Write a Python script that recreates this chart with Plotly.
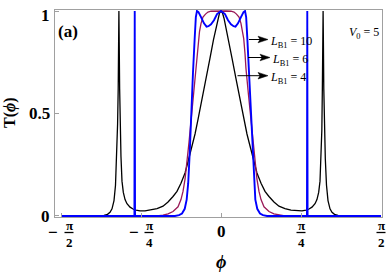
import math
import plotly.graph_objects as go

PI = math.pi

# ---------------- data ----------------
# L_B1 = 4 (black)
phi_L4 = [-1.5708, -1.2566, -1.1977, -1.1486, -1.1143, -1.0897, -1.0701, -1.0505, -1.0357, -1.0240,
          -1.0151, -1.0092, -1.0053, -1.0024, -0.9994, -0.995, -0.990, -0.982, -0.972, -0.959,
          -0.942, -0.923, -0.893, -0.864, -0.834, -0.795, -0.746, -0.687, -0.628, -0.569,
          -0.520, -0.471, -0.432, -0.393, -0.353, -0.329, -0.304, -0.278, -0.255, -0.226,
          -0.187, -0.147, -0.108, -0.0736, -0.0491, -0.0295, -0.0147,
          0.0,
          0.0147, 0.0295, 0.0491, 0.0736, 0.108, 0.147, 0.187, 0.226, 0.255, 0.278,
          0.304, 0.329, 0.353, 0.393, 0.432, 0.471, 0.520, 0.569, 0.628, 0.687,
          0.746, 0.795, 0.834, 0.864, 0.893, 0.923, 0.942, 0.959, 0.972, 0.982,
          0.990, 0.995, 0.9994, 1.0024, 1.0053, 1.0092, 1.0151, 1.0240, 1.0357, 1.0505,
          1.0701, 1.0897, 1.1143, 1.1486, 1.1977, 1.2566, 1.5708]
T_L4 = [0.0, 0.0, 0.001, 0.003, 0.008, 0.018, 0.035, 0.075, 0.15, 0.28,
        0.45, 0.62, 0.85, 1.0, 0.85, 0.62, 0.42, 0.29, 0.17, 0.115,
        0.08, 0.06, 0.043, 0.034, 0.029, 0.025, 0.025, 0.029, 0.036, 0.048,
        0.068, 0.095, 0.12, 0.16, 0.21, 0.255, 0.30, 0.355, 0.40, 0.47,
        0.565, 0.67, 0.77, 0.86, 0.92, 0.965, 0.99,
        1.0,
        0.99, 0.965, 0.92, 0.86, 0.77, 0.67, 0.565, 0.47, 0.40, 0.355,
        0.30, 0.255, 0.21, 0.16, 0.12, 0.095, 0.068, 0.048, 0.036, 0.029,
        0.025, 0.025, 0.029, 0.034, 0.043, 0.06, 0.08, 0.115, 0.17, 0.29,
        0.42, 0.62, 0.85, 1.0, 0.85, 0.62, 0.45, 0.28, 0.15, 0.075,
        0.035, 0.018, 0.008, 0.003, 0.001, 0.0, 0.0]

# L_B1 = 6 (crimson)
phi_L6 = [-1.571, -0.628, -0.569, -0.520, -0.471, -0.422, -0.393, -0.373, -0.353, -0.334,
          -0.314, -0.295, -0.270, -0.245, -0.236, -0.223, -0.211, -0.196, -0.177, -0.152,
          -0.128, -0.098, -0.049,
          0.0,
          0.049, 0.098, 0.128, 0.152, 0.177, 0.196, 0.211, 0.223, 0.236, 0.245,
          0.270, 0.295, 0.314, 0.334, 0.353, 0.373, 0.393, 0.422, 0.471, 0.520,
          0.569, 0.628, 1.571]
T_L6 = [0.0, 0.0, 0.004, 0.01, 0.022, 0.045, 0.08, 0.12, 0.18, 0.26,
        0.36, 0.46, 0.59, 0.72, 0.79, 0.865, 0.90, 0.94, 0.97, 0.985,
        0.995, 0.999, 1.0,
        1.0,
        1.0, 0.999, 0.995, 0.985, 0.97, 0.94, 0.90, 0.865, 0.79, 0.72,
        0.59, 0.46, 0.36, 0.26, 0.18, 0.12, 0.08, 0.045, 0.022, 0.01,
        0.004, 0.0, 0.0]

# L_B1 = 10 (blue)
phi_L10 = [-1.571, -0.850, -0.847, -0.844, -0.452, -0.412, -0.383, -0.356, -0.337, -0.322,
           -0.307, -0.293, -0.275, -0.258, -0.247, -0.236, -0.221, -0.196, -0.167, -0.142,
           -0.123, -0.098, -0.069, -0.039,
           0.0,
           0.039, 0.069, 0.098, 0.123, 0.142, 0.167, 0.196, 0.221, 0.236, 0.247,
           0.258, 0.275, 0.293, 0.307, 0.322, 0.337, 0.356, 0.383, 0.412, 0.452,
           0.844, 0.847, 0.850, 1.571]
T_L10 = [0.0, 0.0, 1.0, 0.0, 0.0, 0.004, 0.012, 0.035, 0.08, 0.16,
         0.31, 0.50, 0.70, 0.87, 0.97, 1.0, 0.995, 0.97, 0.94, 0.924,
         0.926, 0.935, 0.955, 0.985,
         1.0,
         0.985, 0.955, 0.935, 0.926, 0.924, 0.94, 0.97, 0.995, 1.0, 0.97,
         0.87, 0.70, 0.50, 0.31, 0.16, 0.08, 0.035, 0.012, 0.004, 0.0,
         0.0, 1.0, 0.0, 0.0]

x_ticks = [-PI / 2, -PI / 4, 0, PI / 4, PI / 2]
y_ticks = [0, 0.5, 1]
y_tick_labels = ["0", "0.5", "1"]
legend_labels = ["<i>L</i><sub>B1</sub> = 10", "<i>L</i><sub>B1</sub> = 6", "<i>L</i><sub>B1</sub> = 4"]

# ---------------- layout helpers (pixel -> paper) ----------------
W, H = 388, 275
L, R, TOP, B = 55, 382, 10, 217


def px(x):
    return (x - L) / (R - L)


def py(y):
    return (B - y) / (B - TOP)


SERIF = "Liberation Serif"
GRAY = "#a0a0a0"

fig = go.Figure()
fig.add_trace(go.Scatter(x=phi_L4, y=T_L4, mode="lines",
                         line=dict(color="black", width=1.3), showlegend=False))
fig.add_trace(go.Scatter(x=phi_L6, y=T_L6, mode="lines",
                         line=dict(color="#9a1a58", width=1.3), showlegend=False))
fig.add_trace(go.Scatter(x=phi_L10, y=T_L10, mode="lines",
                         line=dict(color="#0000ff", width=1.9), showlegend=False))

ann = []
shapes = []

# y tick labels
for yv, lab, ypx in zip(y_ticks, y_tick_labels, [216, 113, 15]):
    ann.append(dict(x=px(52), y=py(ypx), xref="paper", yref="paper", text=lab,
                    showarrow=False, xanchor="right", yanchor="middle",
                    font=dict(family=SERIF, size=17, color="black", weight="bold")))

# x tick labels as stacked fractions
frac = [(-1, 69, "2", 53), (-1, 149, "4", 134), (1, 301, "4", None), (1, 381, "2", None)]
for sign, cx, den, mx in frac:
    ann.append(dict(x=px(cx), y=py(225.5), xref="paper", yref="paper", text="π",
                    showarrow=False, xanchor="center", yanchor="middle",
                    font=dict(family=SERIF, size=13, color="black", weight="bold")))
    ann.append(dict(x=px(cx), y=py(242), xref="paper", yref="paper", text=den,
                    showarrow=False, xanchor="center", yanchor="middle",
                    font=dict(family=SERIF, size=13, color="black", weight="bold")))
    shapes.append(dict(type="line", xref="paper", yref="paper",
                       x0=px(cx - 4.5), x1=px(cx + 4.5), y0=py(232.5), y1=py(232.5),
                       line=dict(color="black", width=1.3)))
    if mx is not None:
        ann.append(dict(x=px(mx), y=py(233), xref="paper", yref="paper", text="−",
                        showarrow=False, xanchor="center", yanchor="middle",
                        font=dict(family=SERIF, size=17, color="black", weight="bold")))
ann.append(dict(x=px(221), y=py(231.5), xref="paper", yref="paper", text="0",
                showarrow=False, xanchor="center", yanchor="middle",
                font=dict(family=SERIF, size=17, color="black", weight="bold")))

# axis titles
ann.append(dict(x=px(221), y=py(262), xref="paper", yref="paper", text="<i>ϕ</i>",
                showarrow=False, xanchor="center", yanchor="middle",
                font=dict(family=SERIF, size=18, color="black", weight="bold")))
ann.append(dict(x=px(10), y=py(113), xref="paper", yref="paper", text="T(<i>ϕ</i>)",
                showarrow=False, xanchor="center", yanchor="middle", textangle=-90,
                font=dict(family=SERIF, size=16, color="black", weight="bold")))

# panel label and V0
ann.append(dict(x=px(56), y=py(31), xref="paper", yref="paper", text="(a)",
                showarrow=False, xanchor="left", yanchor="middle",
                font=dict(family=SERIF, size=17, color="black", weight="bold")))
ann.append(dict(x=px(381), y=py(33), xref="paper", yref="paper",
                text="<i>V</i><sub>0</sub> = 5",
                showarrow=False, xanchor="right", yanchor="middle",
                font=dict(family=SERIF, size=12, color="black")))

# legend arrows + labels
arrows = [(249, 268, 39.5, 42), (248, 270, 57.5, 60), (237.5, 268, 75.7, 78)]
for (tail, tip, ya, yt), lab in zip(arrows, legend_labels):
    shapes.append(dict(type="line", xref="paper", yref="paper",
                       x0=px(tail), x1=px(tip - 8), y0=py(ya), y1=py(ya),
                       line=dict(color="black", width=1)))
    path = (f"M {px(tip)},{py(ya)} L {px(tip - 10)},{py(ya - 3.3)} "
            f"L {px(tip - 8)},{py(ya)} L {px(tip - 10)},{py(ya + 3.3)} Z")
    shapes.append(dict(type="path", xref="paper", yref="paper", path=path,
                       fillcolor="black", line=dict(color="black", width=0.5)))
    ann.append(dict(x=px(tip), y=py(yt), xref="paper", yref="paper", text=lab,
                    showarrow=False, xanchor="left", yanchor="middle",
                    font=dict(family=SERIF, size=12, color="black")))

fig.update_layout(
    width=W, height=H,
    margin=dict(l=L, r=W - R, t=TOP, b=H - B),
    paper_bgcolor="white", plot_bgcolor="white",
    annotations=ann, shapes=shapes,
    xaxis=dict(range=[-1.6297, 1.5806], showline=True, mirror=True, linecolor=GRAY,
               linewidth=1, ticks="inside", tickvals=x_ticks, ticklen=4,
               tickcolor=GRAY, showticklabels=False, showgrid=False, zeroline=False),
    yaxis=dict(range=[-0.005, 1.005], showline=True, mirror=True, linecolor=GRAY,
               linewidth=1, ticks="inside", tickvals=y_ticks, ticklen=4,
               tickcolor=GRAY, showticklabels=False, showgrid=False, zeroline=False),
)

fig.write_html("out.html", config={"displayModeBar": False},
               post_script="document.body.style.margin='0px';")
